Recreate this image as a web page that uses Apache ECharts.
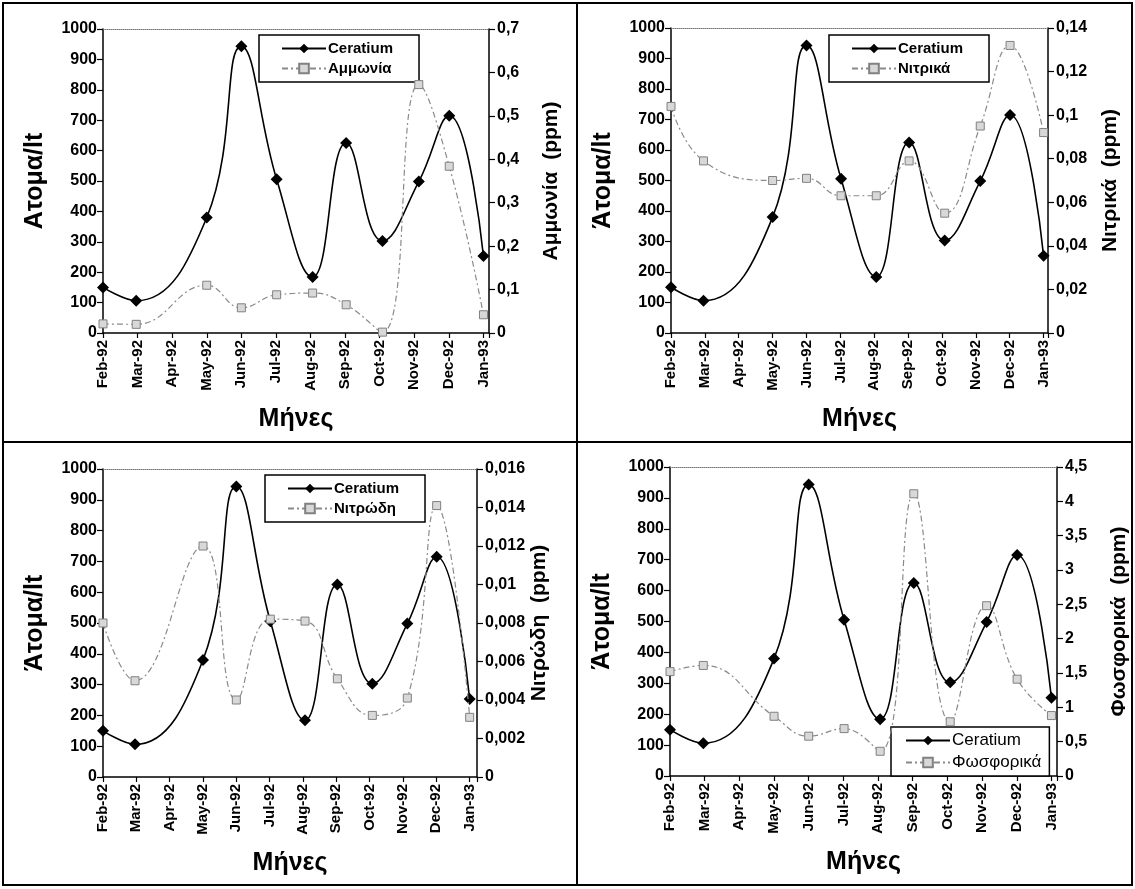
<!DOCTYPE html>
<html>
<head>
<meta charset="utf-8">
<script src="https://cdn.jsdelivr.net/npm/echarts@6/dist/echarts.min.js"></script>
<style>
  html, body { margin: 0; padding: 0; background: #fff; }
  #chart { width: 1135px; height: 889px; }
</style>
</head>
<body>
<div id="chart"></div>
<script>
// Month tick labels of the shared time axis (one tick per month)
const monthLabels = ['Feb-92', 'Mar-92', 'Apr-92', 'May-92', 'Jun-92', 'Jul-92',
                     'Aug-92', 'Sep-92', 'Oct-92', 'Nov-92', 'Dec-92', 'Jan-93'];

// Sampling dates, expressed in months after 1 Feb 1992
const sampleMonth = [0, 0.96, 3.0, 4.0, 5.02, 6.06, 7.03, 8.08, 9.13, 10.01, 11];

// Ceratium abundance (individuals per litre)
const ceratium = [150, 106, 380, 943, 506, 184, 625, 303, 498, 715, 253];

// Nutrient concentrations (ppm)
const ammonia    = [0.021, 0.02, 0.11, 0.058, 0.088, 0.092, 0.065, 0.002, 0.572, 0.384, 0.042];
const nitrates   = [0.104, 0.079, 0.070, 0.071, 0.063, 0.063, 0.079, 0.055, 0.095, 0.132, 0.092];
const nitrites   = [0.008, 0.005, 0.012, 0.004, 0.0082, 0.0081, 0.0051, 0.0032, 0.0041, 0.0141, 0.0031];
const phosphates = [1.52, 1.61, 0.87, 0.58, 0.69, 0.36, 4.11, 0.79, 2.48, 1.41, 0.88];

// Panel set-up: nutrient series, right-axis scale and titles
const panels = [
  { name: 'Αμμωνία',   values: ammonia,    max: 0.7,   step: 0.1,   title: 'Αμμωνία  (ppm)',   leftTitle: 'Ατομα/lt',
    grid: { left: 103, top: 29, width: 386, height: 304 }, xMax: 11.16,
    legend: { left: 259, top: 35 } },
  { name: 'Νιτρικά',   values: nitrates,   max: 0.14,  step: 0.02,  title: 'Νιτρικά  (ppm)',   leftTitle: 'Άτομα/lt',
    grid: { left: 671, top: 28, width: 377, height: 305 }, xMax: 11.13,
    legend: { left: 829, top: 35 } },
  { name: 'Νιτρώδη',   values: nitrites,   max: 0.016, step: 0.002, title: 'Νιτρώδη  (ppm)',   leftTitle: 'Άτομα/lt',
    grid: { left: 103, top: 469, width: 374, height: 308 }, xMax: 11.22,
    legend: { left: 265, top: 475 } },
  { name: 'Φωσφορικά', values: phosphates, max: 4.5,   step: 0.5,   title: 'Φωσφορικά  (ppm)', leftTitle: 'Άτομα/lt',
    grid: { left: 670, top: 467, width: 387, height: 309 }, xMax: 11.16,
    legend: { left: 891, top: 727 } }
];

const FONT = '"Liberation Sans", Arial, sans-serif';
const comma = v => String(+v.toFixed(6)).replace('.', ',');

const grids = [], xAxes = [], yAxes = [], series = [], legends = [];

panels.forEach((p, i) => {
  grids.push(Object.assign({ containLabel: false }, p.grid));

  // bottom month axis
  xAxes.push({
    gridIndex: i, type: 'value', position: 'bottom', min: 0, max: p.xMax, interval: 1,
    axisLine: { show: true, onZero: false, lineStyle: { color: '#000', width: 1.5 } },
    axisTick: { show: true, length: 5, lineStyle: { color: '#000', width: 1.2 } },
    splitLine: { show: false },
    axisLabel: {
      rotate: 90, margin: 7, color: '#000', fontFamily: FONT, fontWeight: 'bold', fontSize: 15,
      formatter: v => (Number.isInteger(v) && monthLabels[v]) ? monthLabels[v] : ''
    },
    name: 'Μήνες', nameLocation: 'middle', nameGap: 74,
    nameTextStyle: { color: '#000', fontFamily: FONT, fontWeight: 'bold', fontSize: 25 }
  });
  // faint dotted upper edge of the plot area
  xAxes.push({
    gridIndex: i, type: 'value', position: 'top', min: 0, max: p.xMax,
    axisLine: { show: true, onZero: false, lineStyle: { color: '#777', width: 1, type: 'dotted' } },
    axisTick: { show: false }, axisLabel: { show: false }, splitLine: { show: false }
  });

  // left axis: Ceratium abundance
  yAxes.push({
    gridIndex: i, type: 'value', position: 'left', min: 0, max: 1000, interval: 100,
    axisLine: { show: true, onZero: false, lineStyle: { color: '#000', width: 1.5 } },
    axisTick: { show: true, length: 6, lineStyle: { color: '#000', width: 1.2 } },
    splitLine: { show: false },
    axisLabel: { margin: 6, color: '#000', fontFamily: FONT, fontWeight: 'bold', fontSize: 16,
                 formatter: v => String(v) },
    name: p.leftTitle, nameLocation: 'middle', nameRotate: 90, nameGap: 55,
    nameTextStyle: { color: '#000', fontFamily: FONT, fontWeight: 'bold', fontSize: 25 }
  });
  // right axis: nutrient concentration
  yAxes.push({
    gridIndex: i, type: 'value', position: 'right', min: 0, max: p.max, interval: p.step,
    axisLine: { show: true, onZero: false, lineStyle: { color: '#000', width: 1.5 } },
    axisTick: { show: true, length: 6, lineStyle: { color: '#000', width: 1.2 } },
    splitLine: { show: false },
    axisLabel: { margin: 8, color: '#000', fontFamily: FONT, fontWeight: 'bold', fontSize: 16, formatter: comma },
    name: p.title, nameLocation: 'middle', nameRotate: 90, nameGap: 52,
    nameTextStyle: { color: '#000', fontFamily: FONT, fontWeight: 'bold', fontSize: 21 }
  });

  series.push({
    name: 'Ceratium', type: 'line', xAxisIndex: 2 * i, yAxisIndex: 2 * i,
    smooth: 0.45, symbol: 'diamond', symbolSize: 12,
    lineStyle: { color: '#000', width: 1.6 },
    itemStyle: { color: '#000' },
    data: sampleMonth.map((m, k) => [m, ceratium[k]]),
    z: 3
  });
  series.push({
    name: p.name, type: 'line', xAxisIndex: 2 * i, yAxisIndex: 2 * i + 1,
    smooth: 0.45, symbol: 'rect', symbolSize: 8,
    lineStyle: { color: '#8a8a8a', width: 1.2, type: [6, 3, 2, 3] },
    itemStyle: { color: '#d8d8d8', borderColor: '#808080', borderWidth: 1 },
    data: sampleMonth.map((m, k) => [m, p.values[k]]),
    z: 4
  });

  legends.push({
    data: ['Ceratium', p.name], orient: 'vertical',
    left: p.legend.left, top: p.legend.top,
    backgroundColor: '#fff', borderColor: '#000', borderWidth: 1.5, borderRadius: 0,
    padding: i === 3 ? [5, 8, 5, 14] : [6, 26, 6, 22], itemGap: 5, itemWidth: 44, itemHeight: 12,
    selectedMode: false,
    textStyle: { color: '#000', fontFamily: FONT, fontWeight: i === 3 ? 'normal' : 'bold',
                 fontSize: i === 3 ? 17 : 15, padding: [0, 0, 0, -3] }
  });
});

const chart = echarts.init(document.getElementById('chart'), null, { renderer: 'canvas' });
chart.setOption({
  backgroundColor: '#fff',
  animation: false,
  grid: grids,
  xAxis: xAxes,
  yAxis: yAxes,
  legend: legends,
  series: series,
  graphic: [
    { type: 'rect', shape: { x: 3, y: 3, width: 1129, height: 882 },
      style: { fill: 'none', stroke: '#000', lineWidth: 2 }, silent: true },
    { type: 'line', shape: { x1: 577, y1: 3, x2: 577, y2: 885 },
      style: { stroke: '#000', lineWidth: 2 }, silent: true },
    { type: 'line', shape: { x1: 3, y1: 442, x2: 1132, y2: 442 },
      style: { stroke: '#000', lineWidth: 2 }, silent: true }
  ]
});
</script>
</body>
</html>
